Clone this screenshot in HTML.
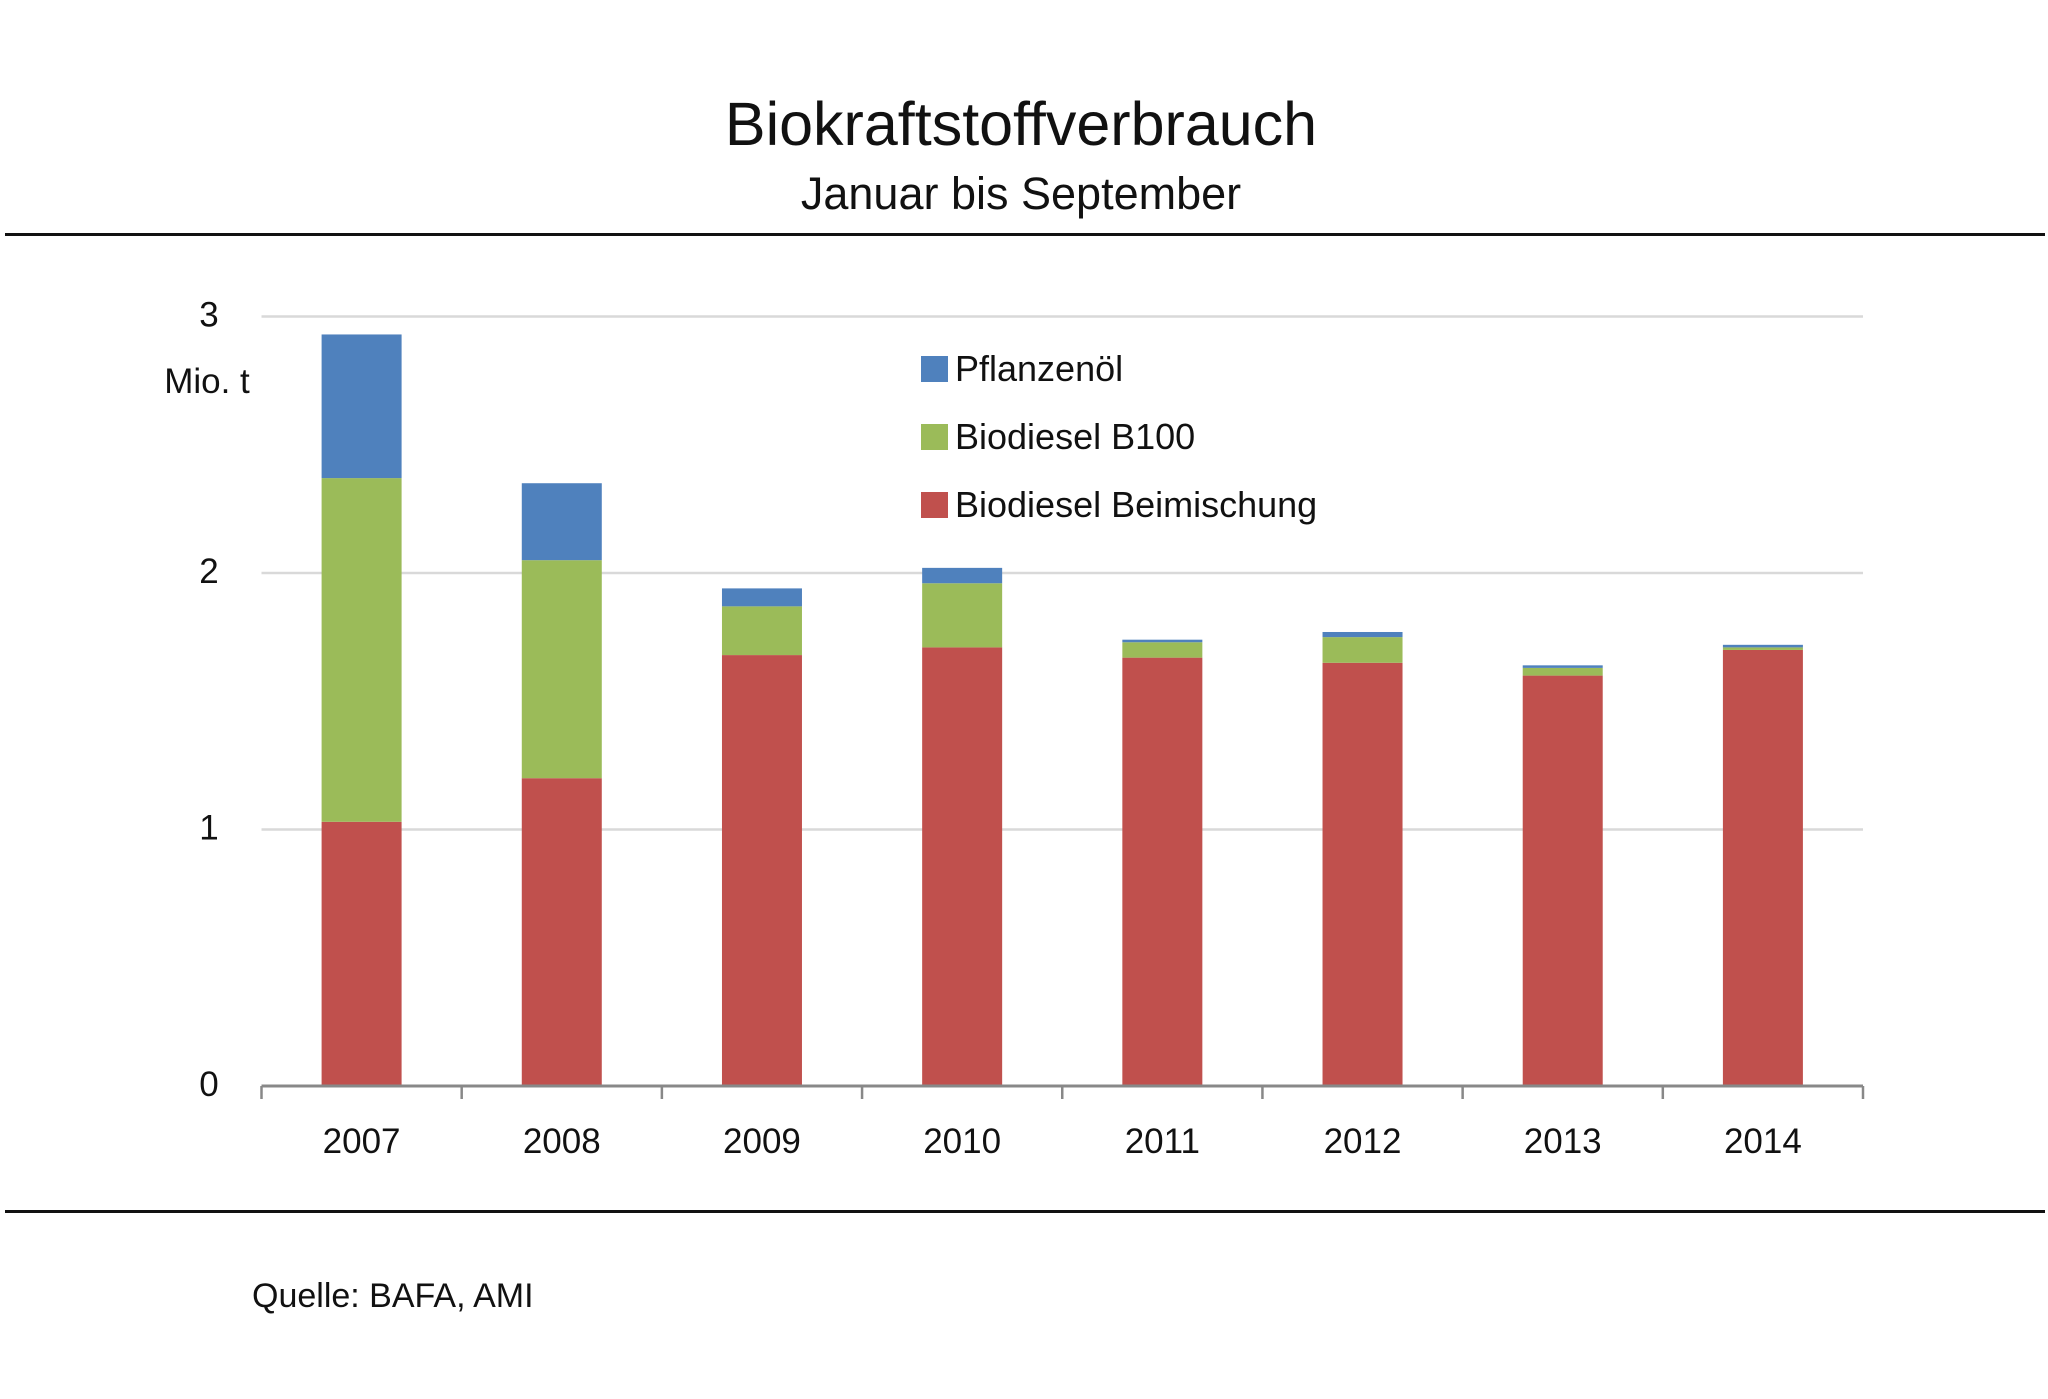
<!DOCTYPE html>
<html><head><meta charset="utf-8">
<style>
html,body{margin:0;padding:0;background:#fff;}
svg{display:block;font-family:"Liberation Sans",sans-serif;}
</style></head>
<body>
<svg id="chart" width="2048" height="1399" viewBox="0 0 2048 1399" xmlns="http://www.w3.org/2000/svg">
<text x="1021" y="145" text-anchor="middle" font-size="61" fill="#111">Biokraftstoffverbrauch</text>
<text x="1021" y="209" text-anchor="middle" font-size="45" fill="#111">Januar bis September</text>
<rect x="5" y="233" width="2040" height="3" fill="#111"/>
<rect x="5" y="1210" width="2040" height="3" fill="#111"/>
<text x="252" y="1307" font-size="34" fill="#111">Quelle: BAFA, AMI</text>
<text x="207" y="393" text-anchor="middle" font-size="35" fill="#111">Mio. t</text>
<g id="grid"></g>
<g id="bars"></g>
<g id="axis"></g>
<g id="legend"></g>
</svg>
<script>
const categories=["2007","2008","2009","2010","2011","2012","2013","2014"];
const beimischung=[1.03,1.20,1.68,1.71,1.67,1.65,1.60,1.70];
const b100=[1.34,0.85,0.19,0.25,0.06,0.10,0.03,0.01];
const pflanzenoel=[0.56,0.30,0.07,0.06,0.01,0.02,0.01,0.01];
const yTicks=[0,1,2,3];
const seriesNames=["Pflanzenöl","Biodiesel B100","Biodiesel Beimischung"];

const NS="http://www.w3.org/2000/svg";
const x0=261.5,x1=1863,y0=1086,unit=256.5;
const cw=(x1-x0)/categories.length,bw=80;
const yS=v=>y0-v*unit;
const xC=i=>x0+cw*(i+0.5);
function mk(tag,attrs,parent){const e=document.createElementNS(NS,tag);for(const k in attrs)e.setAttribute(k,attrs[k]);parent.appendChild(e);return e;}
const grid=document.getElementById('grid'),bars=document.getElementById('bars'),axis=document.getElementById('axis'),legend=document.getElementById('legend');
yTicks.forEach(t=>{
  if(t>0){const l=mk('line',{x1:x0,x2:x1,y1:yS(t),y2:yS(t),stroke:'#d9d9d9','stroke-width':2.5},grid);
  
  }
  const tx=mk('text',{x:209,y:yS(t)+10,'text-anchor':'middle','font-size':35,fill:'#111'},grid);
  tx.textContent=t;
  
  
});
const colors=["#c0504d","#9bbb59","#4f81bd"];
const series=[beimischung,b100,pflanzenoel];
const snames=["beimischung","b100","pflanzenoel"];
categories.forEach((c,i)=>{
  let base=0;
  series.forEach((s,j)=>{
    const r=mk('rect',{x:xC(i)-bw/2,y:yS(base+s[i]),width:bw,height:s[i]*unit,fill:colors[j]},bars);
    
    
    base+=s[i];
  });
  const tx=mk('text',{x:xC(i),y:1153,'text-anchor':'middle','font-size':35,fill:'#111'},axis);
  tx.textContent=c;
  
  
});
const ax=mk('line',{x1:x0,x2:x1,y1:y0,y2:y0,stroke:'#888','stroke-width':3},axis);


for(let i=0;i<=categories.length;i++){
  const t=mk('line',{x1:x0+cw*i,x2:x0+cw*i,y1:y0,y2:y0+13,stroke:'#888','stroke-width':2.5},axis);
  
  
}
const legColors=["#4f81bd","#9bbb59","#c0504d"];
seriesNames.forEach((n,k)=>{
  const cy=369+k*68;
  const g=mk('g',{},legend);
  
  
  mk('rect',{x:921,y:cy-13,width:27,height:26,fill:legColors[k]},g);
  const t=mk('text',{x:955,y:cy+12,'font-size':36,fill:'#111'},g);
  t.textContent=n;
});
</script>
</body></html>
